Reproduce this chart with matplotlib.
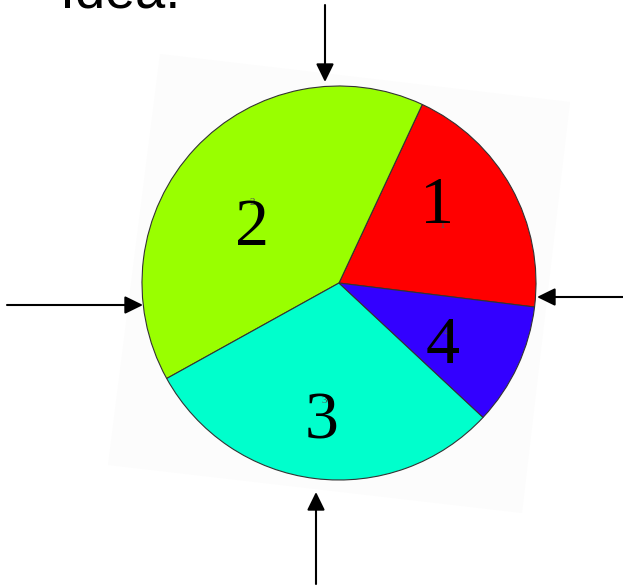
#Import packages
import matplotlib
matplotlib.use('Agg')
import matplotlib.pyplot as plt
from matplotlib.patches import Polygon
import numpy as np

#Chart data
slice_names = ['1', '2', '3', '4']
slice_sizes = [20, 40, 30, 10]
slice_colors = ['#ff0000', '#99ff00', '#00ffcc', '#3300ff']

#Big label placement (angle in degrees, fraction of radius)
big_label_pos = [(37.8, 0.63), (147.7, 0.52), (263.0, 0.71), (328.4, 0.62)]

#Canvas size in pixels
W, H = 623, 587

def flip(x, y):
	# image pixel coords (y down) -> axes data coords (y up)
	return (x, H - y)

def main():

	fig = plt.figure(figsize=(W / 100, H / 100), dpi=100)
	ax = fig.add_axes([0, 0, 1, 1])

	# tilted pale sheet behind the pie
	corners = [flip(160, 54), flip(570, 102), flip(522, 513), flip(108, 465)]
	ax.add_patch(Polygon(corners, closed=True, facecolor='#fcfcfc', edgecolor='none', zorder=0))

	center = flip(339, 283)
	radius = 197
	wedges, texts = ax.pie(slice_sizes, labels=slice_names, colors=slice_colors,
		startangle=-7, counterclock=True, center=center, radius=radius,
		labeldistance=0.6, frame=True,
		wedgeprops=dict(edgecolor='#333333', linewidth=0.8),
		textprops=dict(fontsize=8, color='#555555', family='Liberation Serif'))
	for t in texts:
		t.set_ha('center')
		t.set_va('center')
		t.set_zorder(3)

	# large slice numbers
	for name, (ang, frac) in zip(slice_names, big_label_pos):
		a = np.deg2rad(ang)
		ax.text(center[0] + frac * radius * np.cos(a), center[1] + frac * radius * np.sin(a),
			name, fontsize=49, family='Liberation Serif', ha='center', va='center', zorder=4)

	# arrows pointing at the pie
	arrows = [((325, 5), (325, 82)), ((7, 305), (143, 305)),
		((623, 297), (537, 297)), ((316, 584), (316, 492))]
	for tail, tip in arrows:
		ax.annotate('', xy=flip(*tip), xytext=flip(*tail),
			arrowprops=dict(arrowstyle='-|>,head_length=0.55,head_width=0.27',
				color='black', lw=1.5, mutation_scale=20, shrinkA=0, shrinkB=0))

	# slide title cut off at the top
	ax.text(60, H - 8, 'Idea.', fontsize=39, family='Liberation Sans', ha='left', va='baseline')

	ax.set_xlim(0, W)
	ax.set_ylim(0, H)
	ax.set_aspect('equal')
	ax.axis('off')
	fig.savefig('out.png', dpi=100)

#Execute main script
if __name__ == '__main__':
	main()
